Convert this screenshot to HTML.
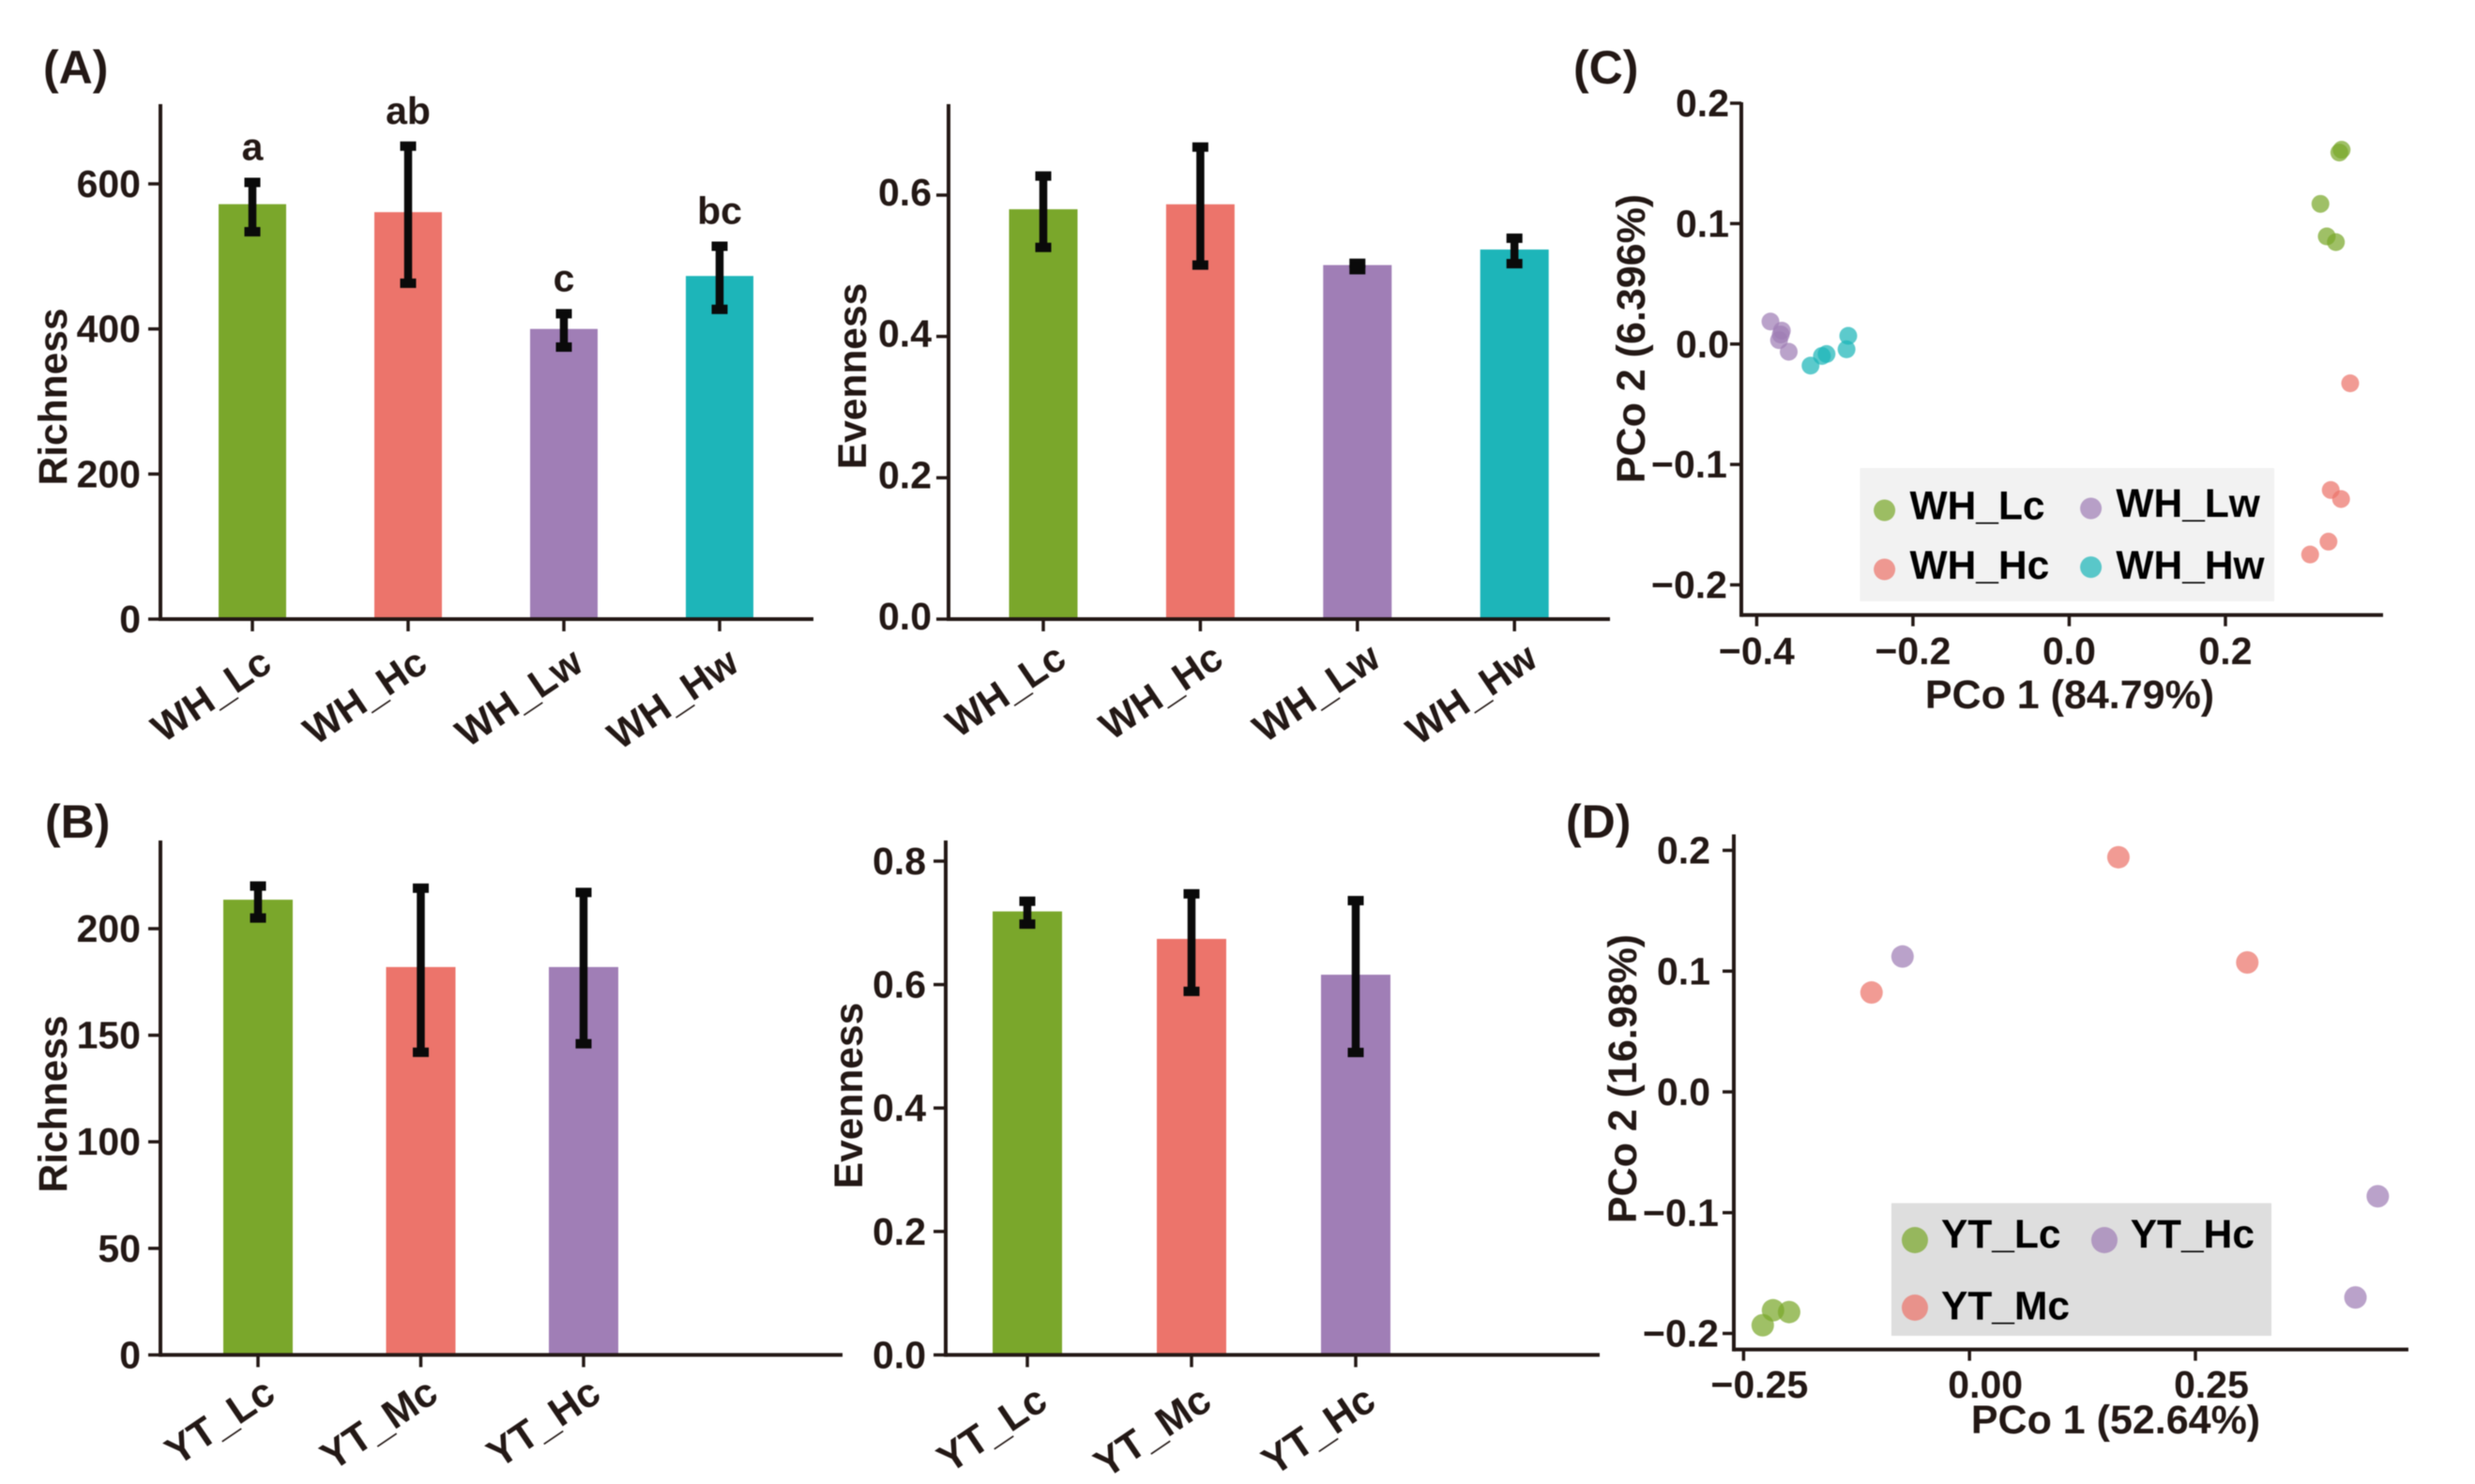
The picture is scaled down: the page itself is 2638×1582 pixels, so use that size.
<!DOCTYPE html>
<html lang="en">
<head>
<meta charset="utf-8">
<title>Richness, evenness and PCoA panels</title>
<style>
html,body{margin:0;padding:0;background:#fff;}
#figure{display:block;width:2638px;height:1582px;filter:blur(0.6px);}
text{font-family:"Liberation Sans",Arial,sans-serif;font-weight:bold;fill:#231815;}
</style>
</head>
<body>
<svg id="figure" xmlns="http://www.w3.org/2000/svg" width="2638" height="1582" viewBox="0 0 2638 1582"></svg>
<script>
// ---- Data: panel A, richness ----
const a1Categories = ['WH_Lc', 'WH_Hc', 'WH_Lw', 'WH_Hw'];
const a1Values = [572, 561, 400, 473];
const a1ErrLow = [534, 463, 375, 427];
const a1ErrHigh = [602, 652, 421, 514];
const a1Letters = ['a', 'ab', 'c', 'bc'];
const a1Ticks = [0, 200, 400, 600];
const a1TickLabels = ['0', '200', '400', '600'];
// ---- Data: panel A, evenness ----
const a2Categories = ['WH_Lc', 'WH_Hc', 'WH_Lw', 'WH_Hw'];
const a2Values = [0.580, 0.587, 0.501, 0.523];
const a2ErrLow = [0.526, 0.501, 0.4945, 0.503];
const a2ErrHigh = [0.627, 0.668, 0.5035, 0.539];
const a2Ticks = [0, 0.2, 0.4, 0.6];
const a2TickLabels = ['0.0', '0.2', '0.4', '0.6'];
// ---- Data: panel B, richness ----
const b1Categories = ['YT_Lc', 'YT_Mc', 'YT_Hc'];
const b1Values = [213.6, 182, 182];
const b1ErrLow = [205, 142, 146];
const b1ErrHigh = [220, 219, 217];
const b1Ticks = [0, 50, 100, 150, 200];
const b1TickLabels = ['0', '50', '100', '150', '200'];
// ---- Data: panel B, evenness ----
const b2Categories = ['YT_Lc', 'YT_Mc', 'YT_Hc'];
const b2Values = [0.7185, 0.674, 0.616];
const b2ErrLow = [0.698, 0.589, 0.49];
const b2ErrHigh = [0.735, 0.747, 0.736];
const b2Ticks = [0, 0.2, 0.4, 0.6, 0.8];
const b2TickLabels = ['0.0', '0.2', '0.4', '0.6', '0.8'];
// ---- Data: panel C, PCoA ----
const cXTicks = [-0.4, -0.2, 0, 0.2];
const cXTickLabels = ['\u22120.4', '\u22120.2', '0.0', '0.2'];
const cYTicks = [-0.2, -0.1, 0, 0.1, 0.2];
const cYTickLabels = ['\u22120.2', '\u22120.1', '0.0', '0.1', '0.2'];
const cLcX = [0.3487, 0.3458, 0.3216, 0.3297, 0.3414];
const cLcY = [0.1613, 0.1590, 0.1164, 0.0894, 0.0846];
const cHcX = [0.3597, 0.3348, 0.3480, 0.3319, 0.3084];
const cHcY = [-0.0326, -0.1212, -0.1287, -0.1641, -0.1748];
const cLwX = [-0.3824, -0.3678, -0.3714, -0.3590, -0.3692];
const cLwY = [0.0187, 0.0111, 0.0032, -0.0064, 0.0079];
const cHwX = [-0.2828, -0.2850, -0.3106, -0.3165, -0.3311];
const cHwY = [0.0068, -0.0044, -0.0083, -0.0099, -0.0179];
// ---- Data: panel D, PCoA ----
const dXTicks = [-0.25, 0, 0.25];
const dXTickLabels = ['\u22120.25', '0.00', '0.25'];
const dYTicks = [-0.2, -0.1, 0, 0.1, 0.2];
const dYTickLabels = ['\u22120.2', '\u22120.1', '0.0', '0.1', '0.2'];
const dLcX = [-0.2174, -0.1996, -0.2288];
const dLcY = [-0.1808, -0.1823, -0.1932];
const dMcX = [0.1648, 0.3074, -0.1084];
const dMcY = [0.1943, 0.1072, 0.0823];
const dHcX = [-0.0741, 0.4518, 0.4271];
const dHcY = [0.1121, -0.0864, -0.1702];

// ---- Drawing ----
const NS = 'http://www.w3.org/2000/svg';
const root = document.getElementById('figure');
const INK = '#231815';
const GREEN = '#7AA72B', RED = '#EC746B', PURPLE = '#A07EB6', TEAL = '#1DB5B9';

function shape(parent, tag, props) {
  const el = document.createElementNS(NS, tag);
  for (const k in props) el.setAttribute(k, props[k]);
  parent.appendChild(el);
  return el;
}
function label(parent, str, x, y, size, anchor, rot, name) {
  const el = shape(parent, 'text', {x: x, y: y, 'font-size': size, 'text-anchor': anchor});
  if (rot) el.setAttribute('transform', 'rotate(' + rot + ' ' + x + ' ' + y + ')');
  el.textContent = str;
  
  
  return el;
}
function line(parent, x1, y1, x2, y2, w, name) {
  const el = shape(parent, 'line', {x1: x1, y1: y1, x2: x2, y2: y2, stroke: INK, 'stroke-width': w});
  
  
  return el;
}
function group(name) {
  const g = shape(root, 'g', {});
  
  
  return g;
}
function linear(d0, d1, r0, r1) {
  return function (v) { return r0 + (v - d0) * (r1 - r0) / (d1 - d0); };
}

function barPanel(o) {
  const g = group(o.name);
  const y = linear(o.d0, o.d1, o.r0, o.r1);
  const xc = function (i) { return o.x0 + i * o.step; };
  o.values.forEach(function (v, i) {
    const bar = shape(g, 'rect', {x: xc(i) - o.barW / 2, y: y(v), width: o.barW, height: y(0) - y(v), fill: o.colors[i]});
    
    
  });
  o.values.forEach(function (v, i) {
    const cx = xc(i);
    const cap = 10;
    const top = y(o.high[i]), bot = y(o.low[i]);
    const stem = shape(g, 'rect', {x: cx - 4.25, y: top, width: 8.5, height: bot - top, fill: '#0a0a0a'});
    
    
    const c1 = shape(g, 'rect', {x: cx - 8.5, y: top - cap / 2, width: 17, height: cap, fill: '#0a0a0a'});
    
    
    const c2 = shape(g, 'rect', {x: cx - 8.5, y: bot - cap / 2, width: 17, height: cap, fill: '#0a0a0a'});
    
    
  });
  line(g, o.axisX, o.axisTop, o.axisX, y(0) + 2, 4, 'y-axis-line');
  line(g, o.axisX, y(0), o.axisEnd, y(0), 4, 'x-axis-line');
  o.ticks.forEach(function (t, i) {
    line(g, o.axisX - 13, y(t), o.axisX, y(t), 3.5, 'y-tick');
    label(g, o.tickLabels[i], o.labelRight, y(t) + 14 + (o.labelDy || 0), 41, 'end', 0, 'y-tick-label');
  });
  o.categories.forEach(function (c, i) {
    line(g, xc(i), y(0), xc(i), y(0) + 13, 3.5, 'x-tick');
    label(g, c, xc(i) + o.catDx, y(0) + o.catDy, o.catSize, 'end', -34, 'x-tick-label');
  });
  label(g, o.yTitle, o.titleX, o.titleY, 42.5, 'middle', -90, 'y-axis-title');
  if (o.letters) {
    o.letters.forEach(function (s, i) {
      label(g, s, xc(i), y(o.high[i]) - 24, 41, 'middle', 0, 'significance-letter');
    });
  }
}

function scatterPanel(o) {
  const g = group(o.name);
  const x = linear(o.xd0, o.xd1, o.xr0, o.xr1);
  const y = linear(o.yd0, o.yd1, o.yr0, o.yr1);
  const bg = shape(g, 'rect', {x: o.legend.x, y: o.legend.y, width: o.legend.w, height: o.legend.h, fill: o.legend.fill});
  
  
  o.series.forEach(function (s) {
    s.xs.forEach(function (vx, i) {
      const p = shape(g, 'circle', {cx: x(vx), cy: y(s.ys[i]), r: o.r, fill: s.color, 'fill-opacity': 0.72});
      
      
    });
    const d = shape(g, 'circle', {cx: s.lx, cy: s.ly, r: o.r + 2, fill: s.color, 'fill-opacity': 0.72});
    
    
    label(g, s.label, s.tx, s.ty, 42.5, 'start', 0, 'legend-entry-' + s.name).setAttribute('style', 'fill:#000');
  });
  line(g, o.axisX, o.axisTop, o.axisX, o.axisBottom + 2, 4, 'y-axis-line');
  line(g, o.axisX, o.axisBottom, o.axisEnd, o.axisBottom, 4, 'x-axis-line');
  o.yTicks.forEach(function (t, i) {
    line(g, o.axisX - 12, y(t), o.axisX, y(t), 3.5, 'y-tick');
    label(g, o.yLabels[i], t < 0 ? o.yNegRight : o.yPosRight, y(t) + 14, 41, 'end', 0, 'y-tick-label');
  });
  o.xTicks.forEach(function (t, i) {
    line(g, x(t), o.axisBottom, x(t), o.axisBottom + 12, 3.5, 'x-tick');
    label(g, o.xLabels[i], x(t) + o.xLabelDx, o.xLabelY, 41, 'middle', 0, 'x-tick-label');
  });
  label(g, o.xTitle, o.xTitleX, o.xTitleY, 43, 'middle', 0, 'x-axis-title');
  label(g, o.yTitle, o.yTitleX, o.yTitleY, 43, 'middle', -90, 'y-axis-title');
}

barPanel({name: 'panel-a-richness', d0: 0, d1: 600, r0: 660, r1: 196,
  axisX: 171, axisTop: 111, axisEnd: 867, x0: 269, step: 166, barW: 72, labelRight: 150,
  categories: a1Categories, values: a1Values, low: a1ErrLow, high: a1ErrHigh,
  ticks: a1Ticks, tickLabels: a1TickLabels, letters: a1Letters,
  colors: [GREEN, RED, PURPLE, TEAL], catDx: 23, catDy: 53, catSize: 42,
  yTitle: 'Richness', titleX: 71, titleY: 423});

barPanel({name: 'panel-a-evenness', d0: 0, d1: 0.6, r0: 660, r1: 208,
  axisX: 1011, axisTop: 111, axisEnd: 1716, x0: 1112, step: 167.4, barW: 73, labelRight: 993, labelDy: -3,
  categories: a2Categories, values: a2Values, low: a2ErrLow, high: a2ErrHigh,
  ticks: a2Ticks, tickLabels: a2TickLabels,
  colors: [GREEN, RED, PURPLE, TEAL], catDx: 27, catDy: 48, catSize: 42,
  yTitle: 'Evenness', titleX: 923, titleY: 401});

barPanel({name: 'panel-b-richness', d0: 0, d1: 200, r0: 1444.4, r1: 990,
  axisX: 171, axisTop: 896, axisEnd: 898, x0: 275, step: 173.5, barW: 74, labelRight: 150,
  categories: b1Categories, values: b1Values, low: b1ErrLow, high: b1ErrHigh,
  ticks: b1Ticks, tickLabels: b1TickLabels,
  colors: [GREEN, RED, PURPLE], catDx: 21, catDy: 47, catSize: 43,
  yTitle: 'Richness', titleX: 71, titleY: 1177});

barPanel({name: 'panel-b-evenness', d0: 0, d1: 0.8, r0: 1444.4, r1: 918,
  axisX: 1008, axisTop: 896, axisEnd: 1705, x0: 1095, step: 175, barW: 74, labelRight: 987,
  categories: b2Categories, values: b2Values, low: b2ErrLow, high: b2ErrHigh,
  ticks: b2Ticks, tickLabels: b2TickLabels,
  colors: [GREEN, RED, PURPLE], catDx: 24, catDy: 55, catSize: 43,
  yTitle: 'Evenness', titleX: 919, titleY: 1168});

scatterPanel({name: 'panel-c-pcoa',
  xd0: -0.4, xd1: 0.2, xr0: 1872.4, xr1: 2372, yd0: -0.2, yd1: 0.2, yr0: 623.5, yr1: 110,
  axisX: 1856, axisTop: 109, axisBottom: 655.6, axisEnd: 2540, r: 9.5,
  xTicks: cXTicks, xLabels: cXTickLabels, yTicks: cYTicks, yLabels: cYTickLabels,
  yPosRight: 1843, yNegRight: 1841, xLabelDx: 0, xLabelY: 708,
  xTitle: 'PCo 1 (84.79%)', xTitleX: 2206, xTitleY: 755,
  yTitle: 'PCo 2 (6.396%)', yTitleX: 1753, yTitleY: 361,
  legend: {x: 1982.4, y: 499, w: 441.6, h: 142, fill: '#F2F2F2'},
  series: [
    {name: 'wh-lc', label: 'WH_Lc', color: GREEN, xs: cLcX, ys: cLcY, lx: 2008.6, ly: 544, tx: 2035.5, ty: 553.6},
    {name: 'wh-hc', label: 'WH_Hc', color: RED, xs: cHcX, ys: cHcY, lx: 2008.6, ly: 607, tx: 2035.5, ty: 617},
    {name: 'wh-lw', label: 'WH_Lw', color: PURPLE, xs: cLwX, ys: cLwY, lx: 2228.6, ly: 542, tx: 2255.4, ty: 551},
    {name: 'wh-hw', label: 'WH_Hw', color: TEAL, xs: cHwX, ys: cHwY, lx: 2228.6, ly: 604.6, tx: 2255.4, ty: 617}
  ]});

scatterPanel({name: 'panel-d-pcoa',
  xd0: -0.25, xd1: 0.25, xr0: 1858.4, xr1: 2340, yd0: -0.2, yd1: 0.2, yr0: 1421.5, yr1: 906.5,
  axisX: 1848, axisTop: 889.5, axisBottom: 1438.6, axisEnd: 2567, r: 12,
  xTicks: dXTicks, xLabels: dXTickLabels, yTicks: dYTicks, yLabels: dYTickLabels,
  yPosRight: 1823, yNegRight: 1832, xLabelDx: 17, xLabelY: 1490,
  xTitle: 'PCo 1 (52.64%)', xTitleX: 2255, xTitleY: 1528,
  yTitle: 'PCo 2 (16.98%)', yTitleX: 1744, yTitleY: 1150,
  legend: {x: 2016, y: 1282.6, w: 405, h: 141.4, fill: '#DEDEDE'},
  series: [
    {name: 'yt-lc', label: 'YT_Lc', color: GREEN, xs: dLcX, ys: dLcY, lx: 2041, ly: 1322, tx: 2069, ty: 1330},
    {name: 'yt-mc', label: 'YT_Mc', color: RED, xs: dMcX, ys: dMcY, lx: 2041, ly: 1394, tx: 2069, ty: 1406.5},
    {name: 'yt-hc', label: 'YT_Hc', color: PURPLE, xs: dHcX, ys: dHcY, lx: 2243, ly: 1322, tx: 2270.7, ty: 1330}
  ]});

label(root, '(A)', 46, 89, 50, 'start', 0, 'panel-label-a');
label(root, '(B)', 48, 893, 50, 'start', 0, 'panel-label-b');
label(root, '(C)', 1677, 89, 50, 'start', 0, 'panel-label-c');
label(root, '(D)', 1669, 893, 50, 'start', 0, 'panel-label-d');
</script>
</body>
</html>
